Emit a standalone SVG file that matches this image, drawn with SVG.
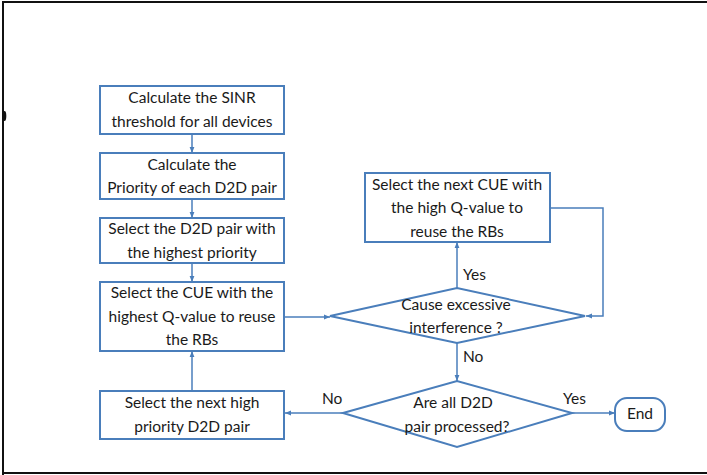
<svg xmlns="http://www.w3.org/2000/svg" width="707" height="475" viewBox="0 0 707 475">
<style>
.b{fill:#fff;stroke:#4a7ebb;stroke-width:2}
.c{fill:none;stroke:#4a7ebb;stroke-width:1.5}
text{font-family:Lato,"Open Sans","Liberation Sans",sans-serif;font-size:15.5px;fill:#1a1a1a;text-anchor:middle}
.l{text-anchor:start}
</style>
<defs>
<marker id="a" viewBox="0 0 10 10" refX="10" refY="5" markerWidth="6" markerHeight="6" markerUnits="userSpaceOnUse" orient="auto">
<path d="M0,1 L10,5 L0,9 Z" fill="#4a7ebb"/>
</marker>
</defs>
<rect x="0" y="0" width="707" height="475" fill="#fff"/>
<g id="frame" fill="none" stroke="#111" stroke-width="2">
<path d="M3,475 V2 H707"/>
<path d="M3,473 H707"/>
</g>
<ellipse cx="4.5" cy="116" rx="1.8" ry="5" fill="#111"/>
<g id="connectors">
<path class="c" d="M192,134 V153" marker-end="url(#a)"/>
<path class="c" d="M192,199 V218" marker-end="url(#a)"/>
<path class="c" d="M192,263 V282" marker-end="url(#a)"/>
<path class="c" d="M192,391 V351" marker-end="url(#a)"/>
<path class="c" d="M284,317 H330" marker-end="url(#a)"/>
<path class="c" d="M457,288 V242" marker-end="url(#a)"/>
<path class="c" d="M550,208 H603 V316 H586" marker-end="url(#a)"/>
<path class="c" d="M457,343 V381" marker-end="url(#a)"/>
<path class="c" d="M572,413 H615" marker-end="url(#a)"/>
<path class="c" d="M343,413 H285" marker-end="url(#a)"/>
<text class="l" x="463" y="280">Yes</text>
<text class="l" x="463" y="362">No</text>
<text class="l" x="322" y="404">No</text>
<text class="l" x="563" y="404">Yes</text>
</g>
<g id="n1"><rect class="b" x="100" y="86" width="184" height="48"/>
<text x="192" y="103">Calculate the SINR</text><text x="192" y="127">threshold for all devices</text></g>
<g id="n2"><rect class="b" x="100" y="153" width="184" height="46"/>
<text x="192" y="170">Calculate the</text><text x="192" y="193">Priority of each D2D pair</text></g>
<g id="n3"><rect class="b" x="100" y="218" width="184" height="45"/>
<text x="192" y="234">Select the D2D pair with</text><text x="192" y="258">the highest priority</text></g>
<g id="n4"><rect class="b" x="100" y="282" width="184" height="69"/>
<text x="192" y="298">Select the CUE with the</text><text x="192" y="322">highest Q-value to reuse</text><text x="192" y="345">the RBs</text></g>
<g id="n5"><rect class="b" x="100" y="391" width="184" height="48"/>
<text x="192" y="408">Select the next high</text><text x="192" y="432">priority D2D pair</text></g>
<g id="n6"><rect class="b" x="365" y="173" width="185" height="69"/>
<text x="457" y="190">Select the next CUE with</text><text x="457" y="213">the high Q-value to</text><text x="457" y="237">reuse the RBs</text></g>
<g id="d1"><path class="b" d="M330,316 L457,288 L585,316 L457,343 Z"/>
<text x="456" y="310">Cause excessive</text><text x="456" y="333">interference ?</text></g>
<g id="d2"><path class="b" d="M343,413 L457,381 L572,413 L457,447 Z"/>
<text x="453" y="408">Are all D2D</text><text x="457" y="432">pair processed?</text></g>
<g id="end"><rect class="b" x="615" y="398" width="50" height="33" rx="12"/>
<text x="640" y="419">End</text></g>
</svg>
